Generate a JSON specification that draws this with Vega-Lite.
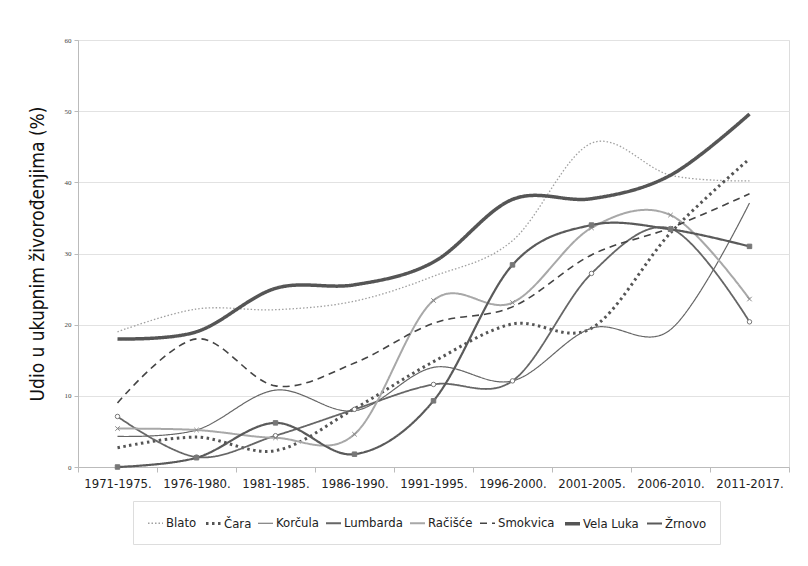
{
  "$schema": "https://vega.github.io/schema/vega-lite/v6.json",
  "width": 711,
  "height": 427,
  "autosize": {"type": "none"},
  "padding": {"left": 78, "top": 40, "right": 19, "bottom": 99},
  "background": "white",
  "config": {
    "view": {"stroke": "#dddddd", "strokeWidth": 1},
    "font": "DejaVu Sans Condensed, Roboto Condensed, Roboto, sans-serif"
  },
  "data": {
    "values": [
      {"period": "1971-1975.", "town": "Blato", "value": 19.0},
      {"period": "1976-1980.", "town": "Blato", "value": 22.2},
      {"period": "1981-1985.", "town": "Blato", "value": 22.1},
      {"period": "1986-1990.", "town": "Blato", "value": 23.3},
      {"period": "1991-1995.", "town": "Blato", "value": 26.8},
      {"period": "1996-2000.", "town": "Blato", "value": 31.8},
      {"period": "2001-2005.", "town": "Blato", "value": 45.5},
      {"period": "2006-2010.", "town": "Blato", "value": 41.0},
      {"period": "2011-2017.", "town": "Blato", "value": 40.2},
      {"period": "1971-1975.", "town": "Čara", "value": 2.7},
      {"period": "1976-1980.", "town": "Čara", "value": 4.2},
      {"period": "1981-1985.", "town": "Čara", "value": 2.3},
      {"period": "1986-1990.", "town": "Čara", "value": 8.2},
      {"period": "1991-1995.", "town": "Čara", "value": 14.8},
      {"period": "1996-2000.", "town": "Čara", "value": 20.1},
      {"period": "2001-2005.", "town": "Čara", "value": 19.5},
      {"period": "2006-2010.", "town": "Čara", "value": 32.9},
      {"period": "2011-2017.", "town": "Čara", "value": 43.3},
      {"period": "1971-1975.", "town": "Korčula", "value": 4.3},
      {"period": "1976-1980.", "town": "Korčula", "value": 5.2},
      {"period": "1981-1985.", "town": "Korčula", "value": 10.8},
      {"period": "1986-1990.", "town": "Korčula", "value": 7.9},
      {"period": "1991-1995.", "town": "Korčula", "value": 14.0},
      {"period": "1996-2000.", "town": "Korčula", "value": 12.1},
      {"period": "2001-2005.", "town": "Korčula", "value": 19.5},
      {"period": "2006-2010.", "town": "Korčula", "value": 19.3},
      {"period": "2011-2017.", "town": "Korčula", "value": 37.1},
      {"period": "1971-1975.", "town": "Lumbarda", "value": 7.1},
      {"period": "1976-1980.", "town": "Lumbarda", "value": 1.4},
      {"period": "1981-1985.", "town": "Lumbarda", "value": 4.4},
      {"period": "1986-1990.", "town": "Lumbarda", "value": 8.1},
      {"period": "1991-1995.", "town": "Lumbarda", "value": 11.6},
      {"period": "1996-2000.", "town": "Lumbarda", "value": 12.1},
      {"period": "2001-2005.", "town": "Lumbarda", "value": 27.2},
      {"period": "2006-2010.", "town": "Lumbarda", "value": 33.5},
      {"period": "2011-2017.", "town": "Lumbarda", "value": 20.4},
      {"period": "1971-1975.", "town": "Račišće", "value": 5.4},
      {"period": "1976-1980.", "town": "Račišće", "value": 5.2},
      {"period": "1981-1985.", "town": "Račišće", "value": 4.1},
      {"period": "1986-1990.", "town": "Račišće", "value": 4.6},
      {"period": "1991-1995.", "town": "Račišće", "value": 23.4},
      {"period": "1996-2000.", "town": "Račišće", "value": 23.1},
      {"period": "2001-2005.", "town": "Račišće", "value": 33.6},
      {"period": "2006-2010.", "town": "Račišće", "value": 35.4},
      {"period": "2011-2017.", "town": "Račišće", "value": 23.6},
      {"period": "1971-1975.", "town": "Smokvica", "value": 9.0},
      {"period": "1976-1980.", "town": "Smokvica", "value": 18.0},
      {"period": "1981-1985.", "town": "Smokvica", "value": 11.4},
      {"period": "1986-1990.", "town": "Smokvica", "value": 14.6},
      {"period": "1991-1995.", "town": "Smokvica", "value": 20.2},
      {"period": "1996-2000.", "town": "Smokvica", "value": 22.5},
      {"period": "2001-2005.", "town": "Smokvica", "value": 29.8},
      {"period": "2006-2010.", "town": "Smokvica", "value": 33.6},
      {"period": "2011-2017.", "town": "Smokvica", "value": 38.4},
      {"period": "1971-1975.", "town": "Vela Luka", "value": 18.0},
      {"period": "1976-1980.", "town": "Vela Luka", "value": 19.0},
      {"period": "1981-1985.", "town": "Vela Luka", "value": 25.1},
      {"period": "1986-1990.", "town": "Vela Luka", "value": 25.6},
      {"period": "1991-1995.", "town": "Vela Luka", "value": 28.8},
      {"period": "1996-2000.", "town": "Vela Luka", "value": 37.6},
      {"period": "2001-2005.", "town": "Vela Luka", "value": 37.7},
      {"period": "2006-2010.", "town": "Vela Luka", "value": 41.0},
      {"period": "2011-2017.", "town": "Vela Luka", "value": 49.6},
      {"period": "1971-1975.", "town": "Žrnovo", "value": 0.0},
      {"period": "1976-1980.", "town": "Žrnovo", "value": 1.3},
      {"period": "1981-1985.", "town": "Žrnovo", "value": 6.2},
      {"period": "1986-1990.", "town": "Žrnovo", "value": 1.8},
      {"period": "1991-1995.", "town": "Žrnovo", "value": 9.3},
      {"period": "1996-2000.", "town": "Žrnovo", "value": 28.4},
      {"period": "2001-2005.", "town": "Žrnovo", "value": 34.0},
      {"period": "2006-2010.", "town": "Žrnovo", "value": 33.4},
      {"period": "2011-2017.", "town": "Žrnovo", "value": 31.0}
    ]
  },
  "encoding": {
    "x": {
      "field": "period",
      "type": "ordinal",
      "scale": {"type": "band", "paddingInner": 0, "paddingOuter": 0},
      "axis": {
        "title": null,
        "labelAngle": 0,
        "labelFontSize": 13,
        "labelColor": "#222222",
        "labelPadding": 5,
        "tickBand": "extent",
        "tickSize": 5,
        "tickColor": "#bbbbbb",
        "domainColor": "#bbbbbb",
        "grid": false
      }
    },
    "y": {
      "field": "value",
      "type": "quantitative",
      "scale": {"domain": [0, 60], "nice": false},
      "axis": {
        "title": "Udio u ukupnim živorođenjima (%)",
        "titleFontSize": 19,
        "titleFontWeight": "normal",
        "titleColor": "#111111",
        "titlePadding": 17,
        "values": [0, 10, 20, 30, 40, 50, 60],
        "labelFont": "Liberation Serif",
        "labelFontSize": 7,
        "labelColor": "#444444",
        "labelPadding": 3,
        "tickSize": 4,
        "tickColor": "#bbbbbb",
        "domainColor": "#bbbbbb",
        "gridColor": "#e2e2e2",
        "gridWidth": 1
      }
    }
  },
  "layer": [
    {
      "mark": {"type": "line", "interpolate": "cardinal", "tension": 0},
      "encoding": {
        "color": {
          "field": "town",
          "type": "nominal",
          "scale": {
            "domain": ["Blato", "Čara", "Korčula", "Lumbarda", "Račišće", "Smokvica", "Vela Luka", "Žrnovo"],
            "range": ["#a0a0a0", "#555555", "#666666", "#666666", "#a8a8a8", "#444444", "#555555", "#5a5a5a"]
          },
          "legend": {
            "title": null,
            "orient": "none",
            "legendX": 55,
            "legendY": 461,
            "direction": "horizontal",
            "columns": 8,
            "padding": 13,
            "strokeColor": "#dddddd",
            "symbolType": "stroke",
            "symbolSize": 225,
            "labelFontSize": 13,
            "labelColor": "#222222",
            "labelOffset": 1,
            "columnPadding": 3
          }
        },
        "strokeDash": {
          "field": "town",
          "type": "nominal",
          "scale": {
            "domain": ["Blato", "Čara", "Korčula", "Lumbarda", "Račišće", "Smokvica", "Vela Luka", "Žrnovo"],
            "range": [[1.5, 2], [2.5, 3.5], [1, 0], [1, 0], [1, 0], [7, 5], [1, 0], [1, 0]]
          },
          "legend": null
        },
        "strokeWidth": {
          "field": "town",
          "type": "nominal",
          "scale": {
            "type": "ordinal",
            "domain": ["Blato", "Čara", "Korčula", "Lumbarda", "Račišće", "Smokvica", "Vela Luka", "Žrnovo"],
            "range": [1.3, 3, 1.2, 1.8, 2, 1.6, 3.5, 2.2]
          },
          "legend": null
        }
      }
    },
    {
      "transform": [{"filter": {"field": "town", "oneOf": ["Lumbarda", "Račišće", "Žrnovo"]}}],
      "mark": {"type": "point", "filled": true, "size": 20, "strokeWidth": 1, "opacity": 1},
      "encoding": {
        "shape": {
          "field": "town",
          "type": "nominal",
          "scale": {
            "domain": ["Lumbarda", "Račišće", "Žrnovo"],
            "range": ["circle", "M-1,-1L1,1M1,-1L-1,1", "square"]
          },
          "legend": null
        },
        "fill": {
          "field": "town",
          "type": "nominal",
          "scale": {
            "domain": ["Lumbarda", "Račišće", "Žrnovo"],
            "range": ["#ffffff", "#999999", "#777777"]
          },
          "legend": null
        },
        "stroke": {
          "field": "town",
          "type": "nominal",
          "scale": {
            "domain": ["Lumbarda", "Račišće", "Žrnovo"],
            "range": ["#777777", "#888888", "#777777"]
          },
          "legend": null
        }
      }
    }
  ]
}
